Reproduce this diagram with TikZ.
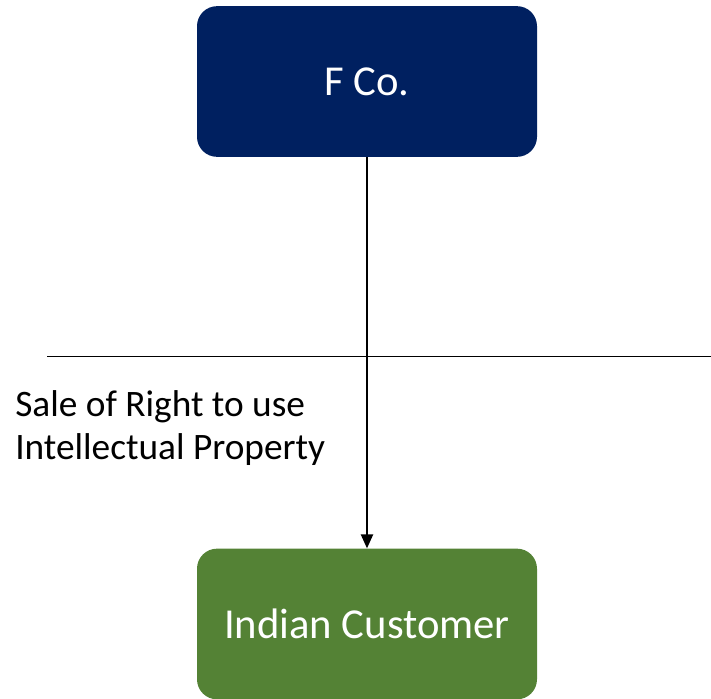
\documentclass[tikz,border=0pt]{standalone}
\usepackage{fontspec}
\setmainfont{Carlito}
\usetikzlibrary{arrows.meta}

\definecolor{navy}{RGB}{0,32,96}
\definecolor{leafgreen}{RGB}{84,130,53}

\tikzset{
  party/.style={rounded corners=15pt, minimum width=255pt, minimum height=113pt,
    text=white, font=\fontsize{32}{38}\selectfont, inner sep=0pt},
}

\begin{document}
\begin{tikzpicture}[x=0.75pt,y=0.75pt,yscale=-1,xscale=1]
\useasboundingbox (0,0) rectangle (711,699);

%Shape: seller
\node [party, fill=navy] (fco) at (367,81.5) {F Co.};
%Shape: buyer
\node [party, fill=leafgreen] (cust) at (367,624) {Indian Customer};

%Straight Lines: border
\coordinate (borderL) at (47,356);
\coordinate (borderR) at (711,356);
\draw [line width=0.75] (borderL) -- (borderR);

%Straight Lines: sale
\draw [line width=1.6, -{Triangle[length=10.5pt,width=9pt]}] (fco) -- (cust);

% Text Node
\node [anchor=west, align=left, font=\fontsize{28}{32.5}\selectfont, inner sep=0pt] (sale) at (15,428) {Sale of Right to use\\Intellectual Property};

\end{tikzpicture}
\end{document}
